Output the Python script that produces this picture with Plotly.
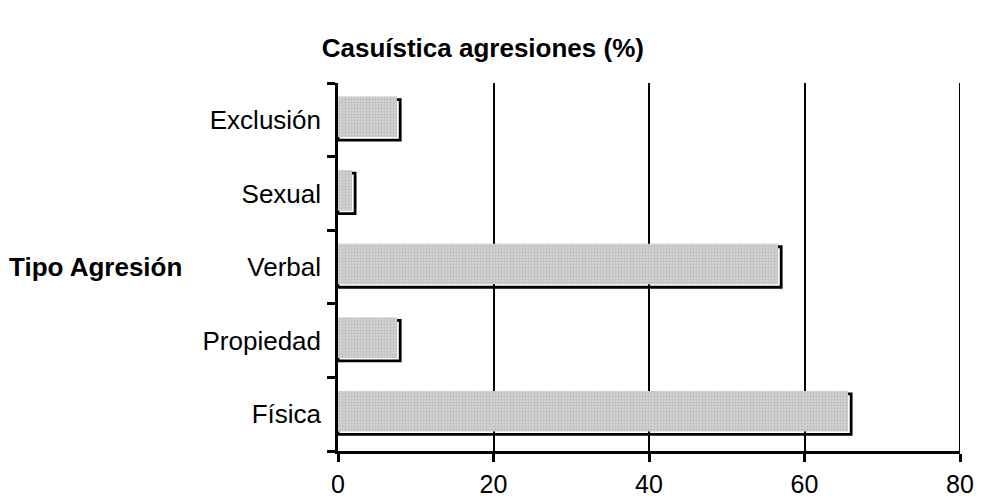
import plotly.graph_objects as go

categories = ["Física", "Propiedad", "Verbal", "Sexual", "Exclusión"]
values = [66, 8, 57, 2.2, 8]
x_ticks = [0, 20, 40, 60, 80]
title_text = "Casuística agresiones (%)"
y_title_text = "Tipo Agresión"

FONT = "Liberation Sans, Arial, sans-serif"

fig = go.Figure()

# shaded fill (slightly offset, like the original shadowed bar)
fig.add_trace(go.Bar(
    y=categories, x=values, orientation="h", width=0.55,
    xaxis="x2", yaxis="y2",
    marker=dict(color="#cfcfcf", line=dict(width=0),
                pattern=dict(shape=".", bgcolor="#d2d2d2", fgcolor="#9c9c9c",
                             size=3, solidity=0.35)),
    showlegend=False, hoverinfo="skip",
))
# black outline
fig.add_trace(go.Bar(
    y=categories, x=values, orientation="h", width=0.55,
    marker=dict(color="rgba(0,0,0,0)", line=dict(color="black", width=2.8)),
    showlegend=False,
))

fig.update_layout(
    width=975, height=495,
    margin=dict(l=330, r=23, t=75, b=52, autoexpand=False),
    paper_bgcolor="white", plot_bgcolor="white",
    font=dict(family=FONT, size=26, color="black"),
    title=dict(text="<b>" + title_text + "</b>", x=0.487, xanchor="center",
               y=0.919, yanchor="middle", xref="container", yref="container",
               font=dict(family=FONT, size=26, color="black")),
    xaxis=dict(range=[0, 80], tickvals=x_ticks, ticktext=[str(v) for v in x_ticks],
               showgrid=True, gridcolor="black", gridwidth=2,
               showline=True, linecolor="black", linewidth=2.5,
               ticks="outside", ticklen=8, tickwidth=2.5, tickcolor="black",
               zeroline=False, tickfont=dict(size=25), ticklabelstandoff=1,
               automargin=False),
    yaxis=dict(type="category", categoryorder="array", categoryarray=categories,
               range=[-0.5, 4.5],
               showline=True, linecolor="black", linewidth=2.5,
               ticks="outside", ticklen=8, tickwidth=2.5, tickcolor="black",
               tickson="boundaries", showgrid=False, zeroline=False,
               tickfont=dict(size=26), ticklabelstandoff=9, automargin=False),
    xaxis2=dict(overlaying="x", range=[0.4, 80.4], visible=False),
    yaxis2=dict(overlaying="y", type="category", categoryorder="array",
                categoryarray=categories, range=[-0.54, 4.46], visible=False),
    shapes=[dict(type="line", xref="x", yref="paper", x0=x_ticks[-1], x1=x_ticks[-1],
                 y0=0, y1=1, line=dict(color="black", width=2), layer="below")],
    annotations=[dict(text="<b>" + y_title_text + "</b>", xref="paper", yref="y",
                      x=-0.2476, y="Verbal", xanchor="right", yanchor="middle",
                      showarrow=False, font=dict(family=FONT, size=26, color="black"))],
)

fig.write_html("out.html")
